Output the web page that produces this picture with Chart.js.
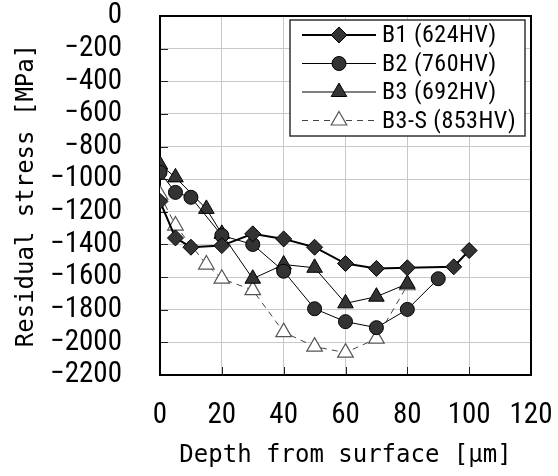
<!DOCTYPE html>
<html>
<head>
<meta charset="utf-8">
<script src="https://cdn.jsdelivr.net/npm/chart.js@4.4.1/dist/chart.umd.min.js"></script>
<style>
  html, body { margin: 0; padding: 0; background: #fff; }
</style>
</head>
<body>
<canvas id="c" width="558" height="476"></canvas>
<script>
// --- datos ---
const depthB1 = [0, 5, 10, 20, 30, 40, 50, 60, 70, 80, 95, 100];
const stressB1 = [-1136, -1360, -1417, -1407, -1335, -1366, -1417, -1517, -1547, -1543, -1537, -1437];
const depthB2 = [0, 5, 10, 20, 30, 40, 50, 60, 70, 80, 90];
const stressB2 = [-958, -1081, -1111, -1345, -1400, -1564, -1794, -1873, -1910, -1798, -1610];
const depthB3 = [0, 5, 15, 20, 30, 40, 50, 60, 70, 80];
const stressB3 = [-911, -989, -1182, -1335, -1610, -1523, -1543, -1761, -1720, -1641];
const depthB3S = [0, 5, 15, 20, 30, 40, 50, 60, 70, 80];
const stressB3S = [-1095, -1284, -1523, -1610, -1680, -1937, -2026, -2063, -1977, -1650];
const seriesNames = ["B1 (624HV)", "B2 (760HV)", "B3 (692HV)", "B3-S (853HV)"];
const xTicks = [0, 20, 40, 60, 80, 100, 120];
const yTicks = [0, -200, -400, -600, -800, -1000, -1200, -1400, -1600, -1800, -2000, -2200];

const pts = (xs, ys) => xs.map((x, i) => ({ x, y: ys[i] }));
const NUM = "'Roboto Condensed', 'Noto Sans', sans-serif";
const MONO = "'DejaVu Sans Mono', 'Liberation Mono', monospace";

const datasets = [
  { label: seriesNames[0], data: pts(depthB1, stressB1), borderColor: "#000", borderWidth: 2,
    pointStyle: "rectRot", pointRadius: 8, pointBackgroundColor: "#333", pointBorderColor: "#000", pointBorderWidth: 1 },
  { label: seriesNames[1], data: pts(depthB2, stressB2), borderColor: "#000", borderWidth: 1,
    pointStyle: "circle", pointRadius: 7, pointBackgroundColor: "#333", pointBorderColor: "#000", pointBorderWidth: 1 },
  { label: seriesNames[2], data: pts(depthB3, stressB3), borderColor: "#000", borderWidth: 1,
    pointStyle: "triangle", pointRadius: 9, pointBackgroundColor: "#333", pointBorderColor: "#000", pointBorderWidth: 1 },
  { label: seriesNames[3], data: pts(depthB3S, stressB3S), borderColor: "#444", borderWidth: 1, borderDash: [6, 5],
    pointStyle: "triangle", pointRadius: 9, pointBackgroundColor: "#fff", pointBorderColor: "#555", pointBorderWidth: 1.2 },
];
datasets.forEach((d) => { d.fill = false; d.tension = 0; d.pointHoverRadius = d.pointRadius; });

// marco, marcas interiores y leyenda con línea + marcador
const frame = {
  id: "frame",
  beforeDatasetsDraw(chart) {
    const { ctx, chartArea: a, scales: { x, y } } = chart;
    ctx.save();
    ctx.strokeStyle = "#222"; ctx.lineWidth = 1;
    ctx.beginPath();
    xTicks.forEach((v) => { const p = Math.round(x.getPixelForValue(v)) + 0.5; ctx.moveTo(p, a.bottom); ctx.lineTo(p, a.bottom - 8); });
    yTicks.forEach((v) => { const p = Math.round(y.getPixelForValue(v)) + 0.5; ctx.moveTo(a.left, p); ctx.lineTo(a.left + 8, p); });
    ctx.stroke();
    ctx.lineWidth = 2; ctx.strokeStyle = "#000";
    ctx.strokeRect(a.left, a.top, a.right - a.left, a.bottom - a.top);
    ctx.restore();
  },
  afterDraw(chart) {
    const { ctx } = chart;
    const bx = 290, by = 20, bw = 235, bh = 116;
    ctx.save();
    ctx.fillStyle = "#fff"; ctx.fillRect(bx, by, bw, bh);
    ctx.strokeStyle = "#333"; ctx.lineWidth = 1.5; ctx.strokeRect(bx, by, bw, bh);
    chart.data.datasets.forEach((d, i) => {
      const ry = 35 + i * 28.5;
      ctx.strokeStyle = d.borderColor; ctx.lineWidth = d.borderWidth;
      ctx.setLineDash(d.borderDash || []);
      ctx.beginPath(); ctx.moveTo(302, ry); ctx.lineTo(376, ry); ctx.stroke();
      ctx.setLineDash([]);
      ctx.fillStyle = d.pointBackgroundColor; ctx.strokeStyle = d.pointBorderColor; ctx.lineWidth = d.pointBorderWidth;
      Chart.helpers.drawPoint(ctx, { pointStyle: d.pointStyle, radius: d.pointRadius, borderWidth: d.pointBorderWidth, rotation: 0 }, 339, ry);
      ctx.fillStyle = "#000"; ctx.font = "24px " + NUM;
      ctx.letterSpacing = "0.5px";
      ctx.textBaseline = "middle"; ctx.textAlign = "left";
      ctx.fillText(d.label, 382, ry + 1);
    });
    ctx.restore();
  },
};

const minus = (v) => (v < 0 ? "\u2212" + Math.abs(v) : String(v));

new Chart(document.getElementById("c"), {
  type: "line",
  data: { datasets },
  plugins: [frame],
  options: {
    responsive: false, animation: false,
    layout: { padding: { top: 16, right: 27, left: 0, bottom: 0 } },
    plugins: { legend: { display: false }, tooltip: { enabled: false } },
    scales: {
      x: {
        type: "linear", min: 0, max: 120,
        afterBuildTicks: (s) => { s.ticks = xTicks.map((v) => ({ value: v })); },
        afterFit: (s) => { s.height = 101; s.paddingLeft = 0; s.paddingRight = 0; },
        grid: { color: "#c8c8c8", drawTicks: false },
        border: { display: false },
        ticks: { padding: 23, color: "#000", maxRotation: 0, autoSkip: false, font: { family: NUM, size: 29 } },
        title: { display: true, text: "Depth from surface [μm]", color: "#000", padding: { top: 0, bottom: 6 },
          font: { family: MONO, size: 24 } },
      },
      y: {
        type: "linear", min: -2200, max: 0,
        afterBuildTicks: (s) => { s.ticks = yTicks.map((v) => ({ value: v })); },
        afterFit: (s) => { s.width = 160; s.paddingTop = 0; s.paddingBottom = 0; },
        grid: { color: "#c8c8c8", drawTicks: false },
        border: { display: false },
        ticks: { padding: 38, color: "#000", autoSkip: false, callback: minus, font: { family: NUM, size: 29 } },
        title: { display: true, text: "Residual stress [MPa]", color: "#000", padding: { top: 12, bottom: 0 },
          font: { family: MONO, size: 24 } },
      },
    },
  },
});
</script>
</body>
</html>
